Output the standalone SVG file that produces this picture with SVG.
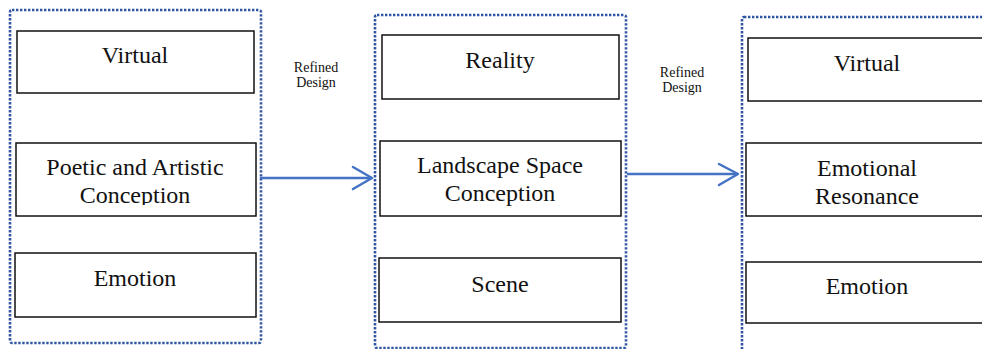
<svg xmlns="http://www.w3.org/2000/svg" width="982" height="349" viewBox="0 0 982 349">
<style>
.frame{fill:none;stroke:#2F55A4;stroke-width:2.6;stroke-dasharray:2.4 1.6;}
.box{fill:#fff;stroke:#111;stroke-width:1.5;}
text{font-family:"Liberation Serif","Times New Roman",serif;fill:#111;text-anchor:middle;}
.t{font-size:24px;}
.lbl{font-size:14px;}
.conn{fill:none;stroke:#4472C4;stroke-width:2.5;stroke-linecap:round;stroke-linejoin:round;}
</style>
<defs>
<clipPath id="clip1"><rect x="0" y="0" width="982" height="205"/></clipPath>
</defs>
<rect width="982" height="349" fill="#fff"/>

<g id="group1">
<rect class="frame" x="10" y="10" width="251" height="333" rx="2"/>
<g id="g1-virtual">
<rect class="box" x="17" y="31" width="237" height="62"/>
<text class="t" x="135" y="63">Virtual</text>
</g>
<g id="g1-poetic">
<rect class="box" x="16" y="143" width="240" height="73"/>
<text class="t" x="135" y="175">Poetic and Artistic</text>
<text class="t" x="135" y="203" clip-path="url(#clip1)">Conception</text>
</g>
<g id="g1-emotion">
<rect class="box" x="15" y="253" width="241" height="64"/>
<text class="t" x="135" y="286">Emotion</text>
</g>
</g>

<g id="group2">
<rect class="frame" x="375" y="15" width="251" height="333" rx="2"/>
<g id="g2-reality">
<rect class="box" x="382" y="35" width="237" height="64"/>
<text class="t" x="500" y="68">Reality</text>
</g>
<g id="g2-landscape">
<rect class="box" x="380" y="141" width="241" height="75"/>
<text class="t" x="500" y="173">Landscape Space</text>
<text class="t" x="500" y="201">Conception</text>
</g>
<g id="g2-scene">
<rect class="box" x="379" y="258" width="242" height="64"/>
<text class="t" x="500" y="292">Scene</text>
</g>
</g>

<g id="group3">
<rect class="frame" x="742" y="17" width="260" height="345" rx="2"/>
<g id="g3-virtual">
<rect class="box" x="748" y="38" width="240" height="63"/>
<text class="t" x="867" y="71">Virtual</text>
</g>
<g id="g3-resonance">
<rect class="box" x="746" y="143" width="242" height="73"/>
<text class="t" x="867" y="176">Emotional</text>
<text class="t" x="867" y="204">Resonance</text>
</g>
<g id="g3-emotion">
<rect class="box" x="746" y="262" width="242" height="61"/>
<text class="t" x="867" y="294">Emotion</text>
</g>
</g>

<g id="connectors">
<g id="arrow1">
<path class="conn" d="M261 178 H371"/>
<path class="conn" d="M353 167 L372 178 L353 189"/>
<text class="lbl" x="316" y="72">Refined</text>
<text class="lbl" x="316" y="87">Design</text>
</g>
<g id="arrow2">
<path class="conn" d="M628 174 H737"/>
<path class="conn" d="M719 164 L738 174 L719 185"/>
<text class="lbl" x="682" y="77">Refined</text>
<text class="lbl" x="682" y="92">Design</text>
</g>
</g>
</svg>
